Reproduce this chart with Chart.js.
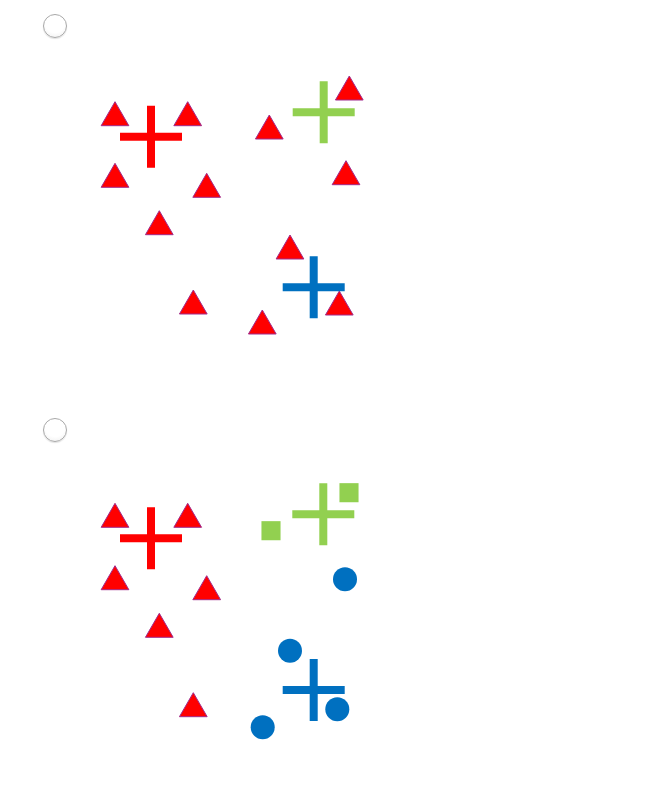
<!DOCTYPE html>
<html>
<head>
<meta charset="utf-8">
<script src="https://cdn.jsdelivr.net/npm/chart.js@4.4.1/dist/chart.umd.min.js"></script>
<style>
  html, body { margin: 0; padding: 0; background: #fff; }
  body { width: 672px; height: 792px; position: relative; overflow: hidden; }
  .panel { position: absolute; left: 0; width: 672px; height: 396px; }
  .radio {
    position: absolute; left: 43px; width: 22px; height: 22px;
    border: 1px solid #a8a8a8; border-radius: 50%;
    background: radial-gradient(circle at 50% 35%, #ffffff 55%, #ececec 100%);
    box-shadow: 0 1px 1px rgba(0,0,0,0.12);
  }
</style>
</head>
<body>
<div class="panel" style="top:0"><canvas id="topChart" width="672" height="396"></canvas></div>
<div class="panel" style="top:396px"><canvas id="bottomChart" width="672" height="396"></canvas></div>
<div class="radio" style="top:14px"></div>
<div class="radio" style="top:418px"></div>
<script>
// points, [x, y] with y counted downwards
const topTriangles = [
    [115, 117.7], [187.7, 117.7], [115, 179.3], [206.7, 189.3], [159.3, 226.7],
    [269.3, 131], [349.3, 92], [346, 176.7], [290, 251], [193.3, 306],
    [262.3, 326], [339.3, 307]
];
const topRedCentre = [[151, 136.7]];
const topGreenCentre = [[323.7, 112.3]];
const topBlueCentre = [[313.7, 287.3]];

const bottomTriangles = [
    [115, 123.3], [187.7, 123.3], [115, 185.7], [206.7, 195.7], [159.3, 233.3], [193.3, 312.7]
];
const bottomSquares = [[271, 134.7], [349, 96.7]];
const bottomCircles = [[345, 183.3], [290, 254.7], [337.3, 313.3], [262.7, 331.3]];
const bottomRedCentre = [[151, 142.3]];
const bottomGreenCentre = [[323.3, 118.3]];
const bottomBlueCentre = [[313.7, 294]];

const RED = '#ff0000';
const GREEN = '#92d050';
const BLUE = '#0070c0';

function pts(list) {
    return list.map(p => ({ x: p[0], y: p[1] }));
}

function triangleSet(list) {
    return {
        data: pts(list),
        pointStyle: 'triangle',
        pointRadius: 16,
        backgroundColor: RED,
        borderColor: '#a02a8c',
        borderWidth: 1
    };
}

function crossSet(list, color) {
    return {
        data: pts(list),
        pointStyle: 'cross',
        pointRadius: 31,
        backgroundColor: color,
        borderColor: color,
        borderWidth: 8
    };
}

function makeChart(id, datasets) {
    return new Chart(document.getElementById(id), {
        type: 'scatter',
        data: { datasets: datasets },
        options: {
            responsive: false,
            animation: false,
            layout: { padding: 0, autoPadding: false },
            plugins: { legend: { display: false }, tooltip: { enabled: false } },
            scales: {
                x: { type: 'linear', min: 0, max: 672, display: false },
                y: { type: 'linear', min: 0, max: 396, reverse: true, display: false }
            },
            elements: { point: { hoverRadius: 0 } }
        }
    });
}

const topChart = makeChart('topChart', [
    crossSet(topRedCentre, RED),
    crossSet(topGreenCentre, GREEN),
    crossSet(topBlueCentre, BLUE),
    triangleSet(topTriangles)
]);

const bottomChart = makeChart('bottomChart', [
    crossSet(bottomRedCentre, RED),
    crossSet(bottomGreenCentre, GREEN),
    crossSet(bottomBlueCentre, BLUE),
    triangleSet(bottomTriangles),
    {
        data: pts(bottomSquares),
        pointStyle: 'rect',
        pointRadius: 13.5,
        backgroundColor: GREEN,
        borderColor: GREEN,
        borderWidth: 0
    },
    {
        data: pts(bottomCircles),
        pointStyle: 'circle',
        pointRadius: 12,
        backgroundColor: BLUE,
        borderColor: BLUE,
        borderWidth: 0
    }
]);
</script>
</body>
</html>
